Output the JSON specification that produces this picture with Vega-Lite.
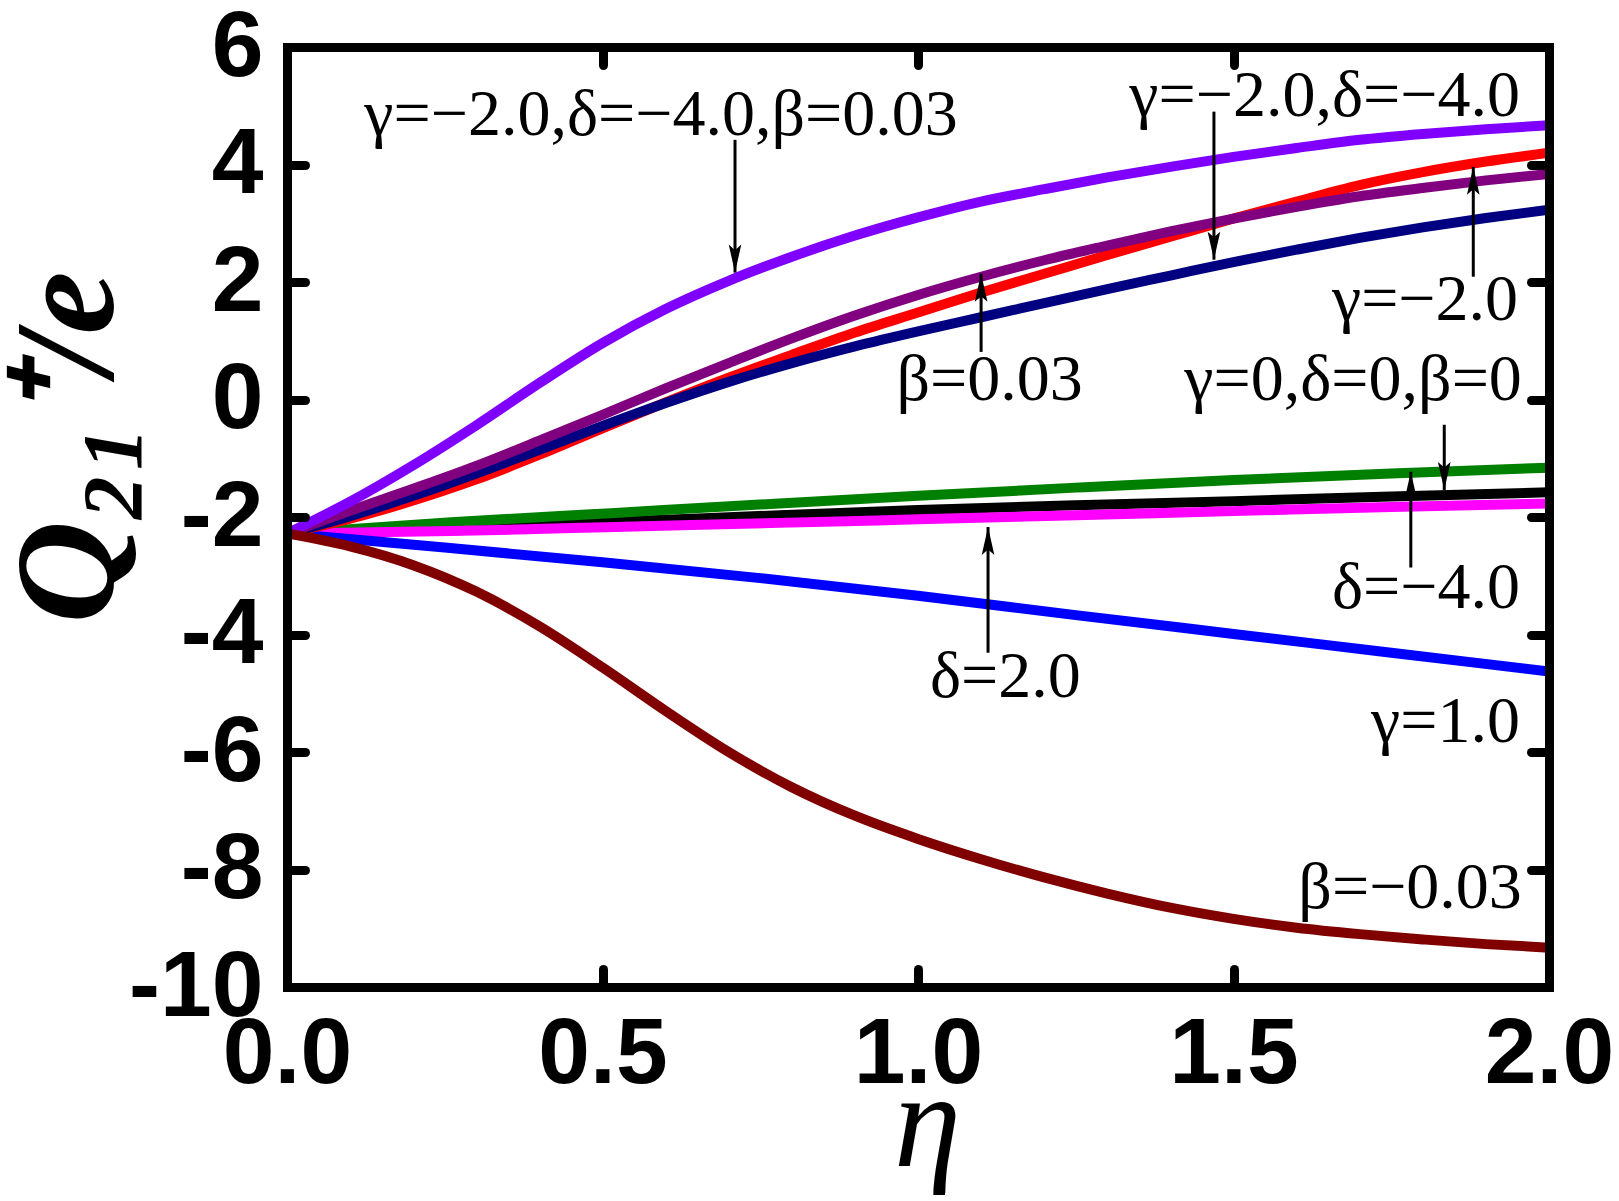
{
  "$schema": "https://vega.github.io/schema/vega-lite/v6.json",
  "autosize": "none",
  "width": 1262,
  "height": 940,
  "padding": {"left": 287, "top": 47, "right": 70, "bottom": 214},
  "background": "white",
  "config": {"view": {"stroke": null}, "axis": {"grid": false}},
  "datasets": {
    "curves": [
      {"s":"K","x":0,"y":-2.28},{"s":"K","x":0.26,"y":-2.18},{"s":"K","x":0.52,"y":-2.08},{"s":"K","x":0.78,"y":-1.97},{"s":"K","x":1.0,"y":-1.88},{"s":"K","x":1.25,"y":-1.8},{"s":"K","x":1.5,"y":-1.73},{"s":"K","x":1.75,"y":-1.65},{"s":"K","x":2.0,"y":-1.58},
      {"s":"G","x":0,"y":-2.28},{"s":"G","x":0.26,"y":-2.09},{"s":"G","x":0.52,"y":-1.93},{"s":"G","x":0.78,"y":-1.77},{"s":"G","x":1.0,"y":-1.64},{"s":"G","x":1.25,"y":-1.5},{"s":"G","x":1.5,"y":-1.37},{"s":"G","x":1.75,"y":-1.26},{"s":"G","x":2.0,"y":-1.16},
      {"s":"M","x":0,"y":-2.28},{"s":"M","x":0.26,"y":-2.24},{"s":"M","x":0.52,"y":-2.17},{"s":"M","x":0.78,"y":-2.1},{"s":"M","x":1.0,"y":-2.04},{"s":"M","x":1.25,"y":-1.97},{"s":"M","x":1.5,"y":-1.9},{"s":"M","x":1.75,"y":-1.83},{"s":"M","x":2.0,"y":-1.77},
      {"s":"B","x":0,"y":-2.28},{"s":"B","x":0.25,"y":-2.52},{"s":"B","x":0.5,"y":-2.77},{"s":"B","x":0.75,"y":-3.04},{"s":"B","x":1.0,"y":-3.34},{"s":"B","x":1.25,"y":-3.67},{"s":"B","x":1.5,"y":-3.99},{"s":"B","x":1.75,"y":-4.31},{"s":"B","x":2.0,"y":-4.63},
      {"s":"R","x":0,"y":-2.28},{"s":"R","x":0.1,"y":-2.03},{"s":"R","x":0.2,"y":-1.72},{"s":"R","x":0.3,"y":-1.36},{"s":"R","x":0.4,"y":-0.94},{"s":"R","x":0.5,"y":-0.49},{"s":"R","x":0.6,"y":-0.05},{"s":"R","x":0.7,"y":0.37},{"s":"R","x":0.8,"y":0.76},{"s":"R","x":0.9,"y":1.14},{"s":"R","x":1.0,"y":1.48},{"s":"R","x":1.1,"y":1.82},{"s":"R","x":1.2,"y":2.14},{"s":"R","x":1.3,"y":2.46},{"s":"R","x":1.4,"y":2.77},{"s":"R","x":1.5,"y":3.08},{"s":"R","x":1.6,"y":3.37},{"s":"R","x":1.7,"y":3.65},{"s":"R","x":1.8,"y":3.87},{"s":"R","x":1.9,"y":4.05},{"s":"R","x":2.0,"y":4.2},
      {"s":"N","x":0,"y":-2.28},{"s":"N","x":0.1,"y":-1.985},{"s":"N","x":0.2,"y":-1.64},{"s":"N","x":0.3,"y":-1.26},{"s":"N","x":0.4,"y":-0.855},{"s":"N","x":0.5,"y":-0.45},{"s":"N","x":0.6,"y":-0.06},{"s":"N","x":0.7,"y":0.3},{"s":"N","x":0.8,"y":0.62},{"s":"N","x":0.9,"y":0.905},{"s":"N","x":1.0,"y":1.16},{"s":"N","x":1.1,"y":1.4},{"s":"N","x":1.2,"y":1.64},{"s":"N","x":1.3,"y":1.88},{"s":"N","x":1.4,"y":2.11},{"s":"N","x":1.5,"y":2.34},{"s":"N","x":1.6,"y":2.55},{"s":"N","x":1.7,"y":2.75},{"s":"N","x":1.8,"y":2.93},{"s":"N","x":1.9,"y":3.09},{"s":"N","x":2.0,"y":3.23},
      {"s":"P","x":0,"y":-2.28},{"s":"P","x":0.1,"y":-1.895},{"s":"P","x":0.2,"y":-1.52},{"s":"P","x":0.3,"y":-1.13},{"s":"P","x":0.4,"y":-0.7},{"s":"P","x":0.5,"y":-0.26},{"s":"P","x":0.6,"y":0.19},{"s":"P","x":0.7,"y":0.62},{"s":"P","x":0.8,"y":1.04},{"s":"P","x":0.9,"y":1.43},{"s":"P","x":1.0,"y":1.78},{"s":"P","x":1.1,"y":2.09},{"s":"P","x":1.2,"y":2.37},{"s":"P","x":1.3,"y":2.62},{"s":"P","x":1.4,"y":2.86},{"s":"P","x":1.5,"y":3.08},{"s":"P","x":1.6,"y":3.28},{"s":"P","x":1.7,"y":3.46},{"s":"P","x":1.8,"y":3.6},{"s":"P","x":1.9,"y":3.73},{"s":"P","x":2.0,"y":3.84},
      {"s":"V","x":0,"y":-2.28},{"s":"V","x":0.1,"y":-1.74},{"s":"V","x":0.2,"y":-1.12},{"s":"V","x":0.3,"y":-0.44},{"s":"V","x":0.4,"y":0.28},{"s":"V","x":0.5,"y":0.96},{"s":"V","x":0.6,"y":1.54},{"s":"V","x":0.7,"y":2.02},{"s":"V","x":0.8,"y":2.43},{"s":"V","x":0.9,"y":2.79},{"s":"V","x":1.0,"y":3.1},{"s":"V","x":1.1,"y":3.37},{"s":"V","x":1.2,"y":3.58},{"s":"V","x":1.3,"y":3.78},{"s":"V","x":1.4,"y":3.96},{"s":"V","x":1.5,"y":4.13},{"s":"V","x":1.6,"y":4.28},{"s":"V","x":1.7,"y":4.42},{"s":"V","x":1.8,"y":4.52},{"s":"V","x":1.9,"y":4.6},{"s":"V","x":2.0,"y":4.67},
      {"s":"D","x":0,"y":-2.28},{"s":"D","x":0.1,"y":-2.5},{"s":"D","x":0.2,"y":-2.82},{"s":"D","x":0.3,"y":-3.27},{"s":"D","x":0.4,"y":-3.86},{"s":"D","x":0.5,"y":-4.56},{"s":"D","x":0.6,"y":-5.3},{"s":"D","x":0.7,"y":-6.0},{"s":"D","x":0.8,"y":-6.6},{"s":"D","x":0.9,"y":-7.085},{"s":"D","x":1.0,"y":-7.48},{"s":"D","x":1.1,"y":-7.825},{"s":"D","x":1.2,"y":-8.135},{"s":"D","x":1.3,"y":-8.41},{"s":"D","x":1.4,"y":-8.65},{"s":"D","x":1.5,"y":-8.84},{"s":"D","x":1.6,"y":-8.99},{"s":"D","x":1.7,"y":-9.1},{"s":"D","x":1.8,"y":-9.19},{"s":"D","x":1.9,"y":-9.27},{"s":"D","x":2.0,"y":-9.33}
    ],
    "arrows": [
      {"x":0.71,"y1":4.42,"y2":2.16,"dir":"down"},
      {"x":1.469,"y1":4.9,"y2":2.38,"dir":"down"},
      {"x":1.88,"y1":2.09,"y2":3.96,"dir":"up"},
      {"x":1.1,"y1":0.81,"y2":2.14,"dir":"up"},
      {"x":1.834,"y1":-0.43,"y2":-1.54,"dir":"down"},
      {"x":1.781,"y1":-2.86,"y2":-1.23,"dir":"up"},
      {"x":1.111,"y1":-4.31,"y2":-2.17,"dir":"up"}
    ],
    "labels": [
      {"t":"γ=−2.0,δ=−4.0,β=0.03","x":1.063,"y":4.51},
      {"t":"γ=−2.0,δ=−4.0","x":1.954,"y":4.82},
      {"t":"γ=−2.0","x":1.951,"y":1.36},
      {"t":"β=0.03","x":1.261,"y":0.0},
      {"t":"γ=0,δ=0,β=0","x":1.957,"y":0.0},
      {"t":"δ=−4.0","x":1.954,"y":-3.545},
      {"t":"δ=2.0","x":1.258,"y":-5.06},
      {"t":"γ=1.0","x":1.954,"y":-5.83},
      {"t":"β=−0.03","x":1.957,"y":-8.65}
    ]
  },
  "layer": [
    {
      "data": {"name": "curves"},
      "mark": {"type": "line", "strokeWidth": 10, "interpolate": "monotone", "clip": true, "strokeCap": "butt"},
      "encoding": {
        "x": {"field": "x", "type": "quantitative", "scale": {"domain": [0, 2], "nice": false, "zero": false},
          "axis": {"orient": "bottom", "values": [0, 0.5, 1, 1.5, 2], "format": ".1f",
            "labelFont": "Liberation Sans", "labelFontWeight": "bold", "labelFontSize": 93, "labelColor": "black",
            "labelFlush": false, "labelOverlap": false, "labelBaseline": "alphabetic", "labelPadding": 113,
            "tickSize": -18, "tickWidth": 9, "tickColor": "black", "tickCap": "round",
            "domainWidth": 9, "domainColor": "black", "domainCap": "square",
            "title": "η", "titleFont": "Liberation Serif", "titleFontStyle": "italic", "titleFontWeight": "normal",
            "titleFontSize": 135, "titleColor": "black", "titleX": 640, "titleY": 178, "titleBaseline": "alphabetic", "titleAlign": "center",
            "zindex": 1}},
        "y": {"field": "y", "type": "quantitative", "scale": {"domain": [-10, 6], "nice": false, "zero": false},
          "axis": {"orient": "left", "values": [-10, -8, -6, -4, -2, 0, 2, 4, 6], "labelExpr": "'' + datum.value",
            "labelFont": "Liberation Sans", "labelFontWeight": "bold", "labelFontSize": 93, "labelColor": "black",
            "labelFlush": false, "labelOverlap": false, "labelBaseline": "middle", "labelPadding": 42,
            "tickSize": -18, "tickWidth": 9, "tickColor": "black", "tickCap": "round",
            "domainWidth": 9, "domainColor": "black", "domainCap": "square",
            "title": "Q₂₁⁺/e", "titleFont": "Liberation Serif", "titleFontStyle": "italic", "titleFontWeight": "bold",
            "titleFontSize": 142, "titleColor": "black", "titleAngle": -90, "titleX": -175, "titleY": 400, "titleBaseline": "alphabetic", "titleAlign": "center",
            "zindex": 1}},
        "color": {"field": "s", "type": "nominal",
          "scale": {"domain": ["K", "G", "M", "B", "R", "N", "P", "V", "D"],
            "range": ["#000000", "#008000", "#FF00FF", "#0000FF", "#FF0000", "#000080", "#800080", "#8000FF", "#800000"]},
          "legend": null}
      }
    },
    {
      "data": {"name": "arrows"},
      "mark": {"type": "rule", "strokeWidth": 3, "color": "black"},
      "encoding": {
        "x": {"field": "x", "type": "quantitative",
          "axis": {"orient": "top", "values": [0, 0.5, 1, 1.5, 2], "labels": false, "title": null,
            "tickSize": -18, "tickWidth": 9, "tickColor": "black", "tickCap": "round",
            "domainWidth": 9, "domainColor": "black", "domainCap": "square", "zindex": 1}},
        "y": {"field": "y1", "type": "quantitative",
          "axis": {"orient": "right", "values": [-10, -8, -6, -4, -2, 0, 2, 4, 6], "labels": false, "title": null,
            "tickSize": -18, "tickWidth": 9, "tickColor": "black", "tickCap": "round",
            "domainWidth": 9, "domainColor": "black", "domainCap": "square", "zindex": 1}},
        "y2": {"field": "y2"}
      }
    },
    {
      "data": {"name": "arrows"},
      "mark": {"type": "point", "filled": true, "size": 784, "color": "black", "opacity": 1, "strokeWidth": 0},
      "encoding": {
        "x": {"field": "x", "type": "quantitative", "axis": null},
        "y": {"field": "y2", "type": "quantitative", "axis": null},
        "shape": {"field": "dir", "type": "nominal",
          "scale": {"domain": ["down", "up"], "range": ["M0,0L-0.45,-2L0,-1.6L0.45,-2Z", "M0,0L-0.45,2L0,1.6L0.45,2Z"]},
          "legend": null}
      }
    },
    {
      "data": {"name": "labels"},
      "mark": {"type": "text", "font": "Liberation Serif", "fontSize": 66, "align": "right", "baseline": "alphabetic", "color": "black"},
      "encoding": {
        "x": {"field": "x", "type": "quantitative", "axis": null},
        "y": {"field": "y", "type": "quantitative", "axis": null},
        "text": {"field": "t"}
      }
    }
  ],
  "resolve": {"axis": {"x": "independent", "y": "independent"}}
}
